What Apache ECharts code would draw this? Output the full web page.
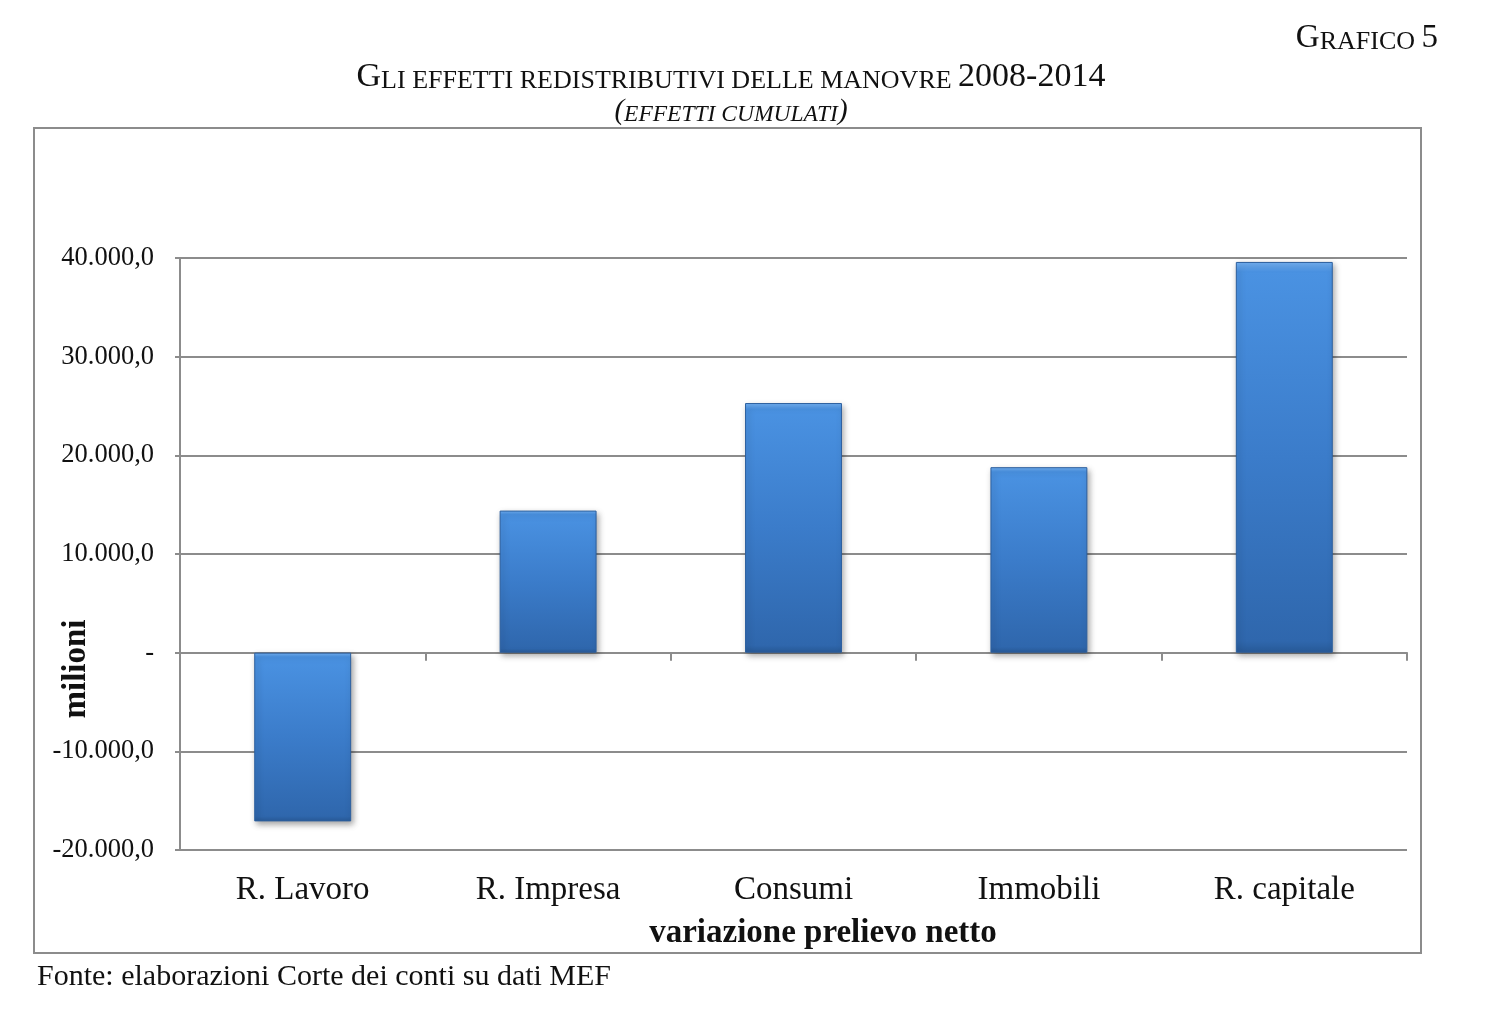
<!DOCTYPE html>
<html>
<head>
<meta charset="utf-8">
<title>Grafico 5</title>
<script src="https://cdn.jsdelivr.net/npm/echarts@6/dist/echarts.min.js"></script>
<style>
  html, body { margin: 0; padding: 0; background: #fff; }
  #chart { width: 1512px; height: 1010px; }
</style>
</head>
<body>
<div id="chart"></div>
<script>
// categorie e valori (milioni)
var categories = ['R. Lavoro', 'R. Impresa', 'Consumi', 'Immobili', 'R. capitale'];
var values = [-17100, 14400, 25300, 18800, 39600];
var yMin = -20000;
var yMax = 40000;
var yStep = 10000;

var serif = '"Liberation Serif", "DejaVu Serif", serif';
var grey = '#8c8c8c';

// 40000 -> "40.000,0", 0 -> "-"
var fmtTick = function (v) {
    if (v === 0) return '-';
    var neg = v < 0;
    var s = String(Math.abs(v)).replace(/\B(?=(\d{3})+(?!\d))/g, '.');
    return (neg ? '-' : '') + s + ',0';
};

var barStyle = {
    color: {
        type: 'linear', x: 0, y: 0, x2: 0, y2: 1,
        colorStops: [
            {offset: 0, color: '#74b2f4'},
            {offset: 0.025, color: '#4a92e2'},
            {offset: 0.5, color: '#3b7cca'},
            {offset: 0.97, color: '#2f67ad'},
            {offset: 1, color: '#285a98'}
        ]
    },
    borderColor: '#2c5f9e',
    borderWidth: 1,
    shadowColor: 'rgba(0,0,0,0.35)',
    shadowBlur: 6,
    shadowOffsetX: 2,
    shadowOffsetY: 3
};

var chart = echarts.init(document.getElementById('chart'));

var option = {
    backgroundColor: '#fff',
    animation: false,
    grid: {left: 180, right: 105, top: 258, bottom: 160},
    xAxis: [
        {
            // asse sullo zero: linea e tacche
            type: 'category',
            data: categories,
            axisLine: {onZero: true, lineStyle: {color: grey, width: 2}},
            axisTick: {show: true, length: 8, lineStyle: {color: grey, width: 2}},
            axisLabel: {show: false},
            splitLine: {show: false}
        },
        {
            // etichette in basso
            type: 'category',
            data: categories,
            position: 'bottom',
            axisLine: {show: false, onZero: false},
            axisTick: {show: false},
            axisLabel: {
                margin: 24,
                fontFamily: serif,
                fontSize: 33,
                color: '#111'
            }
        }
    ],
    yAxis: {
        type: 'value',
        min: yMin,
        max: yMax,
        interval: yStep,
        axisLine: {show: true, lineStyle: {color: grey, width: 2}},
        axisTick: {show: true, length: 5, lineStyle: {color: grey, width: 2}},
        axisLabel: {
            margin: 26,
            formatter: fmtTick,
            fontFamily: serif,
            fontSize: 26.5,
            color: '#111'
        },
        splitLine: {show: true, lineStyle: {color: grey, width: 2}}
    },
    series: [
        {
            type: 'bar',
            xAxisIndex: 0,
            data: values,
            barWidth: '39.5%',
            itemStyle: barStyle
        }
    ],
    graphic: [
        {
            type: 'rect',
            shape: {x: 34, y: 128, width: 1387, height: 825},
            style: {fill: null, stroke: grey, lineWidth: 2},
            silent: true
        },
        {
            type: 'text',
            x: 1438, y: 22,
            style: {
                text: '{b|G}{s|RAFICO }{b|5}',
                align: 'right',
                fontFamily: serif,
                fill: '#111',
                rich: {
                    b: {fontFamily: serif, fontSize: 33, fill: '#111', verticalAlign: 'bottom'},
                    s: {fontFamily: serif, fontSize: 26, fill: '#111', verticalAlign: 'bottom'}
                }
            }
        },
        {
            type: 'text',
            x: 731, y: 60,
            style: {
                text: '{b|G}{s|LI EFFETTI REDISTRIBUTIVI DELLE MANOVRE }{b|2008-2014}',
                align: 'center',
                fontFamily: serif,
                fill: '#111',
                rich: {
                    b: {fontFamily: serif, fontSize: 34, fill: '#111', verticalAlign: 'bottom'},
                    s: {fontFamily: serif, fontSize: 26, fill: '#111', verticalAlign: 'bottom'}
                }
            }
        },
        {
            type: 'text',
            x: 731, y: 97,
            style: {
                text: '{b|(}{s|EFFETTI CUMULATI}{b|)}',
                align: 'center',
                fontFamily: serif,
                fill: '#111',
                rich: {
                    b: {fontFamily: serif, fontStyle: 'italic', fontSize: 29, fill: '#111', verticalAlign: 'bottom'},
                    s: {fontFamily: serif, fontStyle: 'italic', fontSize: 23.5, fill: '#111', verticalAlign: 'bottom'}
                }
            }
        },
        {
            type: 'text',
            x: 76, y: 669,
            rotation: Math.PI / 2,
            style: {
                text: 'milioni',
                align: 'center',
                verticalAlign: 'middle',
                fontFamily: serif,
                fontWeight: 'bold',
                fontSize: 33,
                fill: '#111'
            }
        },
        {
            type: 'text',
            x: 823, y: 933,
            style: {
                text: 'variazione prelievo netto',
                align: 'center',
                verticalAlign: 'middle',
                fontFamily: serif,
                fontWeight: 'bold',
                fontSize: 33,
                fill: '#111'
            }
        },
        {
            type: 'text',
            x: 37, y: 977,
            style: {
                text: 'Fonte: elaborazioni Corte dei conti su dati MEF',
                align: 'left',
                verticalAlign: 'middle',
                fontFamily: serif,
                fontSize: 30,
                fill: '#111'
            }
        }
    ]
};

chart.setOption(option);
</script>
</body>
</html>
